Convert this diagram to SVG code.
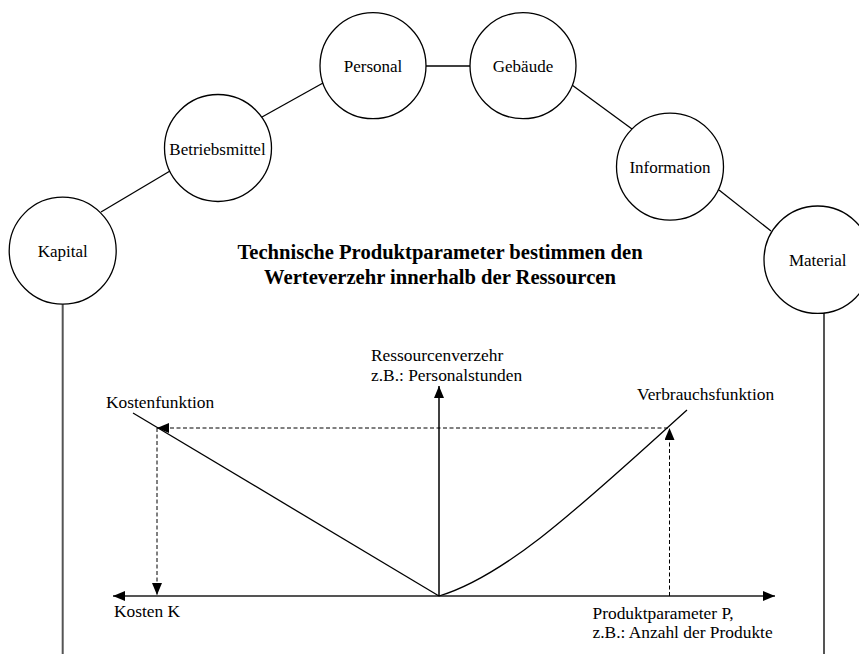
<svg xmlns="http://www.w3.org/2000/svg" width="859" height="654" viewBox="0 0 859 654">
  <style>
    .node circle { fill: #fff; stroke: #000; stroke-width: 1.3; }
    .node text { font-family: "Liberation Serif", "Times New Roman", serif; font-size: 17px; fill: #000; text-anchor: middle; }
    .link { stroke: #000; stroke-width: 1.3; fill: none; }
    .drop { stroke: #555; stroke-width: 2; fill: none; }
    .title { font-family: "Liberation Serif", "Times New Roman", serif; font-size: 20.6px; font-weight: bold; fill: #000; text-anchor: middle; }
    .lbl { font-family: "Liberation Serif", "Times New Roman", serif; font-size: 17.4px; fill: #000; }
    .axis-x { stroke: #555; stroke-width: 2; fill: none; }
    .axis-y { stroke: #000; stroke-width: 1.5; fill: none; }
    .fn { stroke: #000; stroke-width: 1.3; fill: none; }
    .dash { stroke: #000; stroke-width: 1; fill: none; stroke-dasharray: 4 2.5; }
  </style>
  <defs>
    <marker id="tri" viewBox="0 0 12 10" refX="12" refY="5" markerWidth="12" markerHeight="10" orient="auto-start-reverse" markerUnits="userSpaceOnUse">
      <path d="M0,0 L12,5 L0,10 Z" fill="#000"/>
    </marker>
  </defs>

  <!-- connectors between the resource circles and the side drops -->
  <g id="connectors">
    <line class="link" x1="101" y1="212" x2="170" y2="171"/>
    <line class="link" x1="262" y1="117" x2="323" y2="83"/>
    <line class="link" x1="426" y1="66" x2="470" y2="66"/>
    <line class="link" x1="572" y1="85" x2="632" y2="129"/>
    <line class="link" x1="719" y1="190" x2="771" y2="231"/>
    <line class="drop" x1="62.7" y1="304" x2="62.7" y2="654"/>
    <line class="drop" x1="824" y1="312" x2="824" y2="654"/>
  </g>

  <!-- resource nodes -->
  <g id="kapital" class="node">
    <circle cx="62.7" cy="250.7" r="53.5"/>
    <text x="62.7" y="257">Kapital</text>
  </g>
  <g id="betriebsmittel" class="node">
    <circle cx="218" cy="148" r="53.5"/>
    <text x="217.5" y="154.5">Betriebsmittel</text>
  </g>
  <g id="personal" class="node">
    <circle cx="373" cy="65.7" r="53"/>
    <text x="373" y="72">Personal</text>
  </g>
  <g id="gebaeude" class="node">
    <circle cx="523" cy="65.7" r="53"/>
    <text x="523" y="71.5">Gebäude</text>
  </g>
  <g id="information" class="node">
    <circle cx="670" cy="166.7" r="53.5"/>
    <text x="670" y="172.5">Information</text>
  </g>
  <g id="material" class="node">
    <circle cx="817.7" cy="259.7" r="53.7"/>
    <text x="817.7" y="265.5">Material</text>
  </g>

  <!-- heading -->
  <text class="title" x="440" y="259">Technische Produktparameter bestimmen den</text>
  <text class="title" x="440" y="284">Werteverzehr innerhalb der Ressourcen</text>

  <!-- chart: axes -->
  <g id="chart">
    <line class="axis-x" x1="113" y1="596" x2="775" y2="596" marker-start="url(#tri)" marker-end="url(#tri)"/>
    <line class="axis-y" x1="439" y1="596" x2="439" y2="386" marker-end="url(#tri)"/>

    <!-- cost function (left) and consumption function (right) -->
    <line class="fn" x1="133" y1="413" x2="439" y2="596"/>
    <path class="fn" d="M439,596 C509,575 587,500 687,410"/>

    <!-- projection from consumption to cost -->
    <line class="dash" x1="669.5" y1="596" x2="669.5" y2="428" marker-end="url(#tri)"/>
    <line class="dash" x1="668" y1="428" x2="157" y2="428" marker-end="url(#tri)"/>
    <line class="dash" x1="157" y1="428" x2="157" y2="595" marker-end="url(#tri)"/>

    <text class="lbl" x="371" y="361">Ressourcenverzehr</text>
    <text class="lbl" x="371" y="381">z.B.: Personalstunden</text>
    <text class="lbl" x="106" y="408">Kostenfunktion</text>
    <text class="lbl" x="637" y="400">Verbrauchsfunktion</text>
    <text class="lbl" x="114" y="617">Kosten K</text>
    <text class="lbl" x="592.5" y="619">Produktparameter P,</text>
    <text class="lbl" x="592.5" y="638">z.B.: Anzahl der Produkte</text>
  </g>
</svg>
